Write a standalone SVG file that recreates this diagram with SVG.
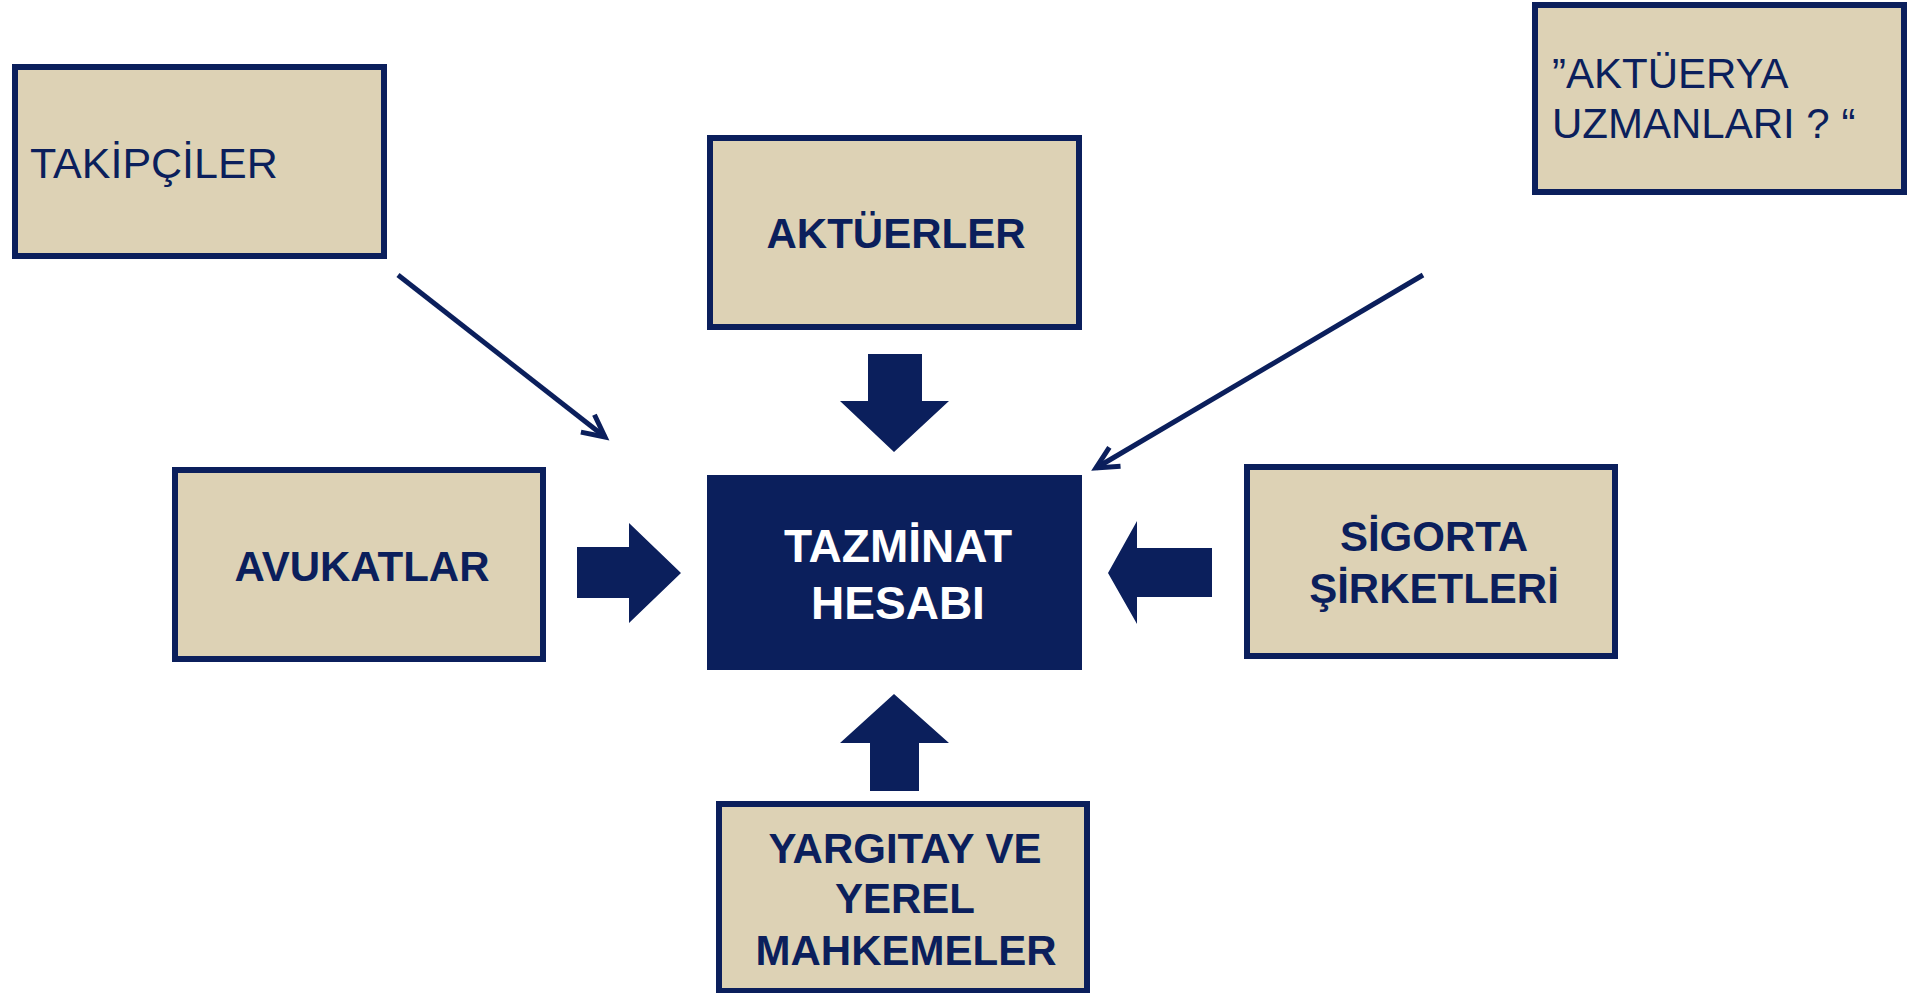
<svg xmlns="http://www.w3.org/2000/svg" width="1928" height="993" viewBox="0 0 1928 993">
<style>
.box{fill:#DDD2B5;stroke:#0B1F5C;stroke-width:6}
.t{font-family:"Liberation Sans",Arial,sans-serif;fill:#0B1F5C}
.b{font-weight:bold;font-size:42px;text-anchor:middle}
.blk{fill:#0B1F5C}
.ln{stroke:#0B1F5C;stroke-width:5;fill:none}
</style>
<defs>
<marker id="open" markerUnits="userSpaceOnUse" markerWidth="40" markerHeight="40" viewBox="-30 -20 40 40" refX="0" refY="0" orient="auto">
<path d="M-22,-11 L0,0 L-22,11" fill="none" stroke="#0B1F5C" stroke-width="5" stroke-linejoin="miter"/>
</marker>
</defs>
<rect width="1928" height="993" fill="#FFFFFF"/>
<g id="connectors">
<line class="ln" x1="398" y1="275" x2="605" y2="437" marker-end="url(#open)"/>
<line class="ln" x1="1423" y1="275" x2="1096" y2="468" marker-end="url(#open)"/>
<polygon class="blk" points="868,354 922,354 922,401 949,401 894,452 840,401 868,401"/>
<polygon class="blk" points="894,694 949,743 919,743 919,791 870,791 870,743 840,743"/>
<polygon class="blk" points="577,547 629,547 629,523 681,573 629,623 629,598 577,598"/>
<polygon class="blk" points="1108,573 1137,521 1137,548 1212,548 1212,597 1137,597 1137,624"/>
</g>
<g id="takipciler">
<rect class="box" x="15" y="67" width="369" height="189"/>
<text class="t" x="30" y="178" font-size="43">TAKİPÇİLER</text>
</g>
<g id="aktuerya-uzmanlari">
<rect class="box" x="1535" y="5" width="369" height="187"/>
<text class="t" x="1552" y="88" font-size="42">”AKTÜERYA</text>
<text class="t" x="1552" y="138" font-size="42">UZMANLARI ? “</text>
</g>
<g id="aktuerler">
<rect class="box" x="710" y="138" width="369" height="189"/>
<text class="t b" x="896" y="248">AKTÜERLER</text>
</g>
<g id="avukatlar">
<rect class="box" x="175" y="470" width="368" height="189"/>
<text class="t b" x="362" y="581">AVUKATLAR</text>
</g>
<g id="sigorta">
<rect class="box" x="1247" y="467" width="368" height="189"/>
<text class="t b" x="1434" y="551">SİGORTA</text>
<text class="t b" x="1434" y="603">ŞİRKETLERİ</text>
</g>
<g id="yargitay">
<rect class="box" x="719" y="804" width="368" height="187"/>
<text class="t b" x="905" y="863">YARGITAY VE</text>
<text class="t b" x="905" y="913">YEREL</text>
<text class="t b" x="906" y="965">MAHKEMELER</text>
</g>
<g id="tazminat">
<rect x="707" y="475" width="375" height="195" fill="#0B1F5C"/>
<text x="898" y="562" font-family="Liberation Sans, Arial, sans-serif" font-weight="bold" font-size="46" fill="#FFFFFF" text-anchor="middle">TAZMİNAT</text>
<text x="898" y="619" font-family="Liberation Sans, Arial, sans-serif" font-weight="bold" font-size="46" fill="#FFFFFF" text-anchor="middle">HESABI</text>
</g>
</svg>
